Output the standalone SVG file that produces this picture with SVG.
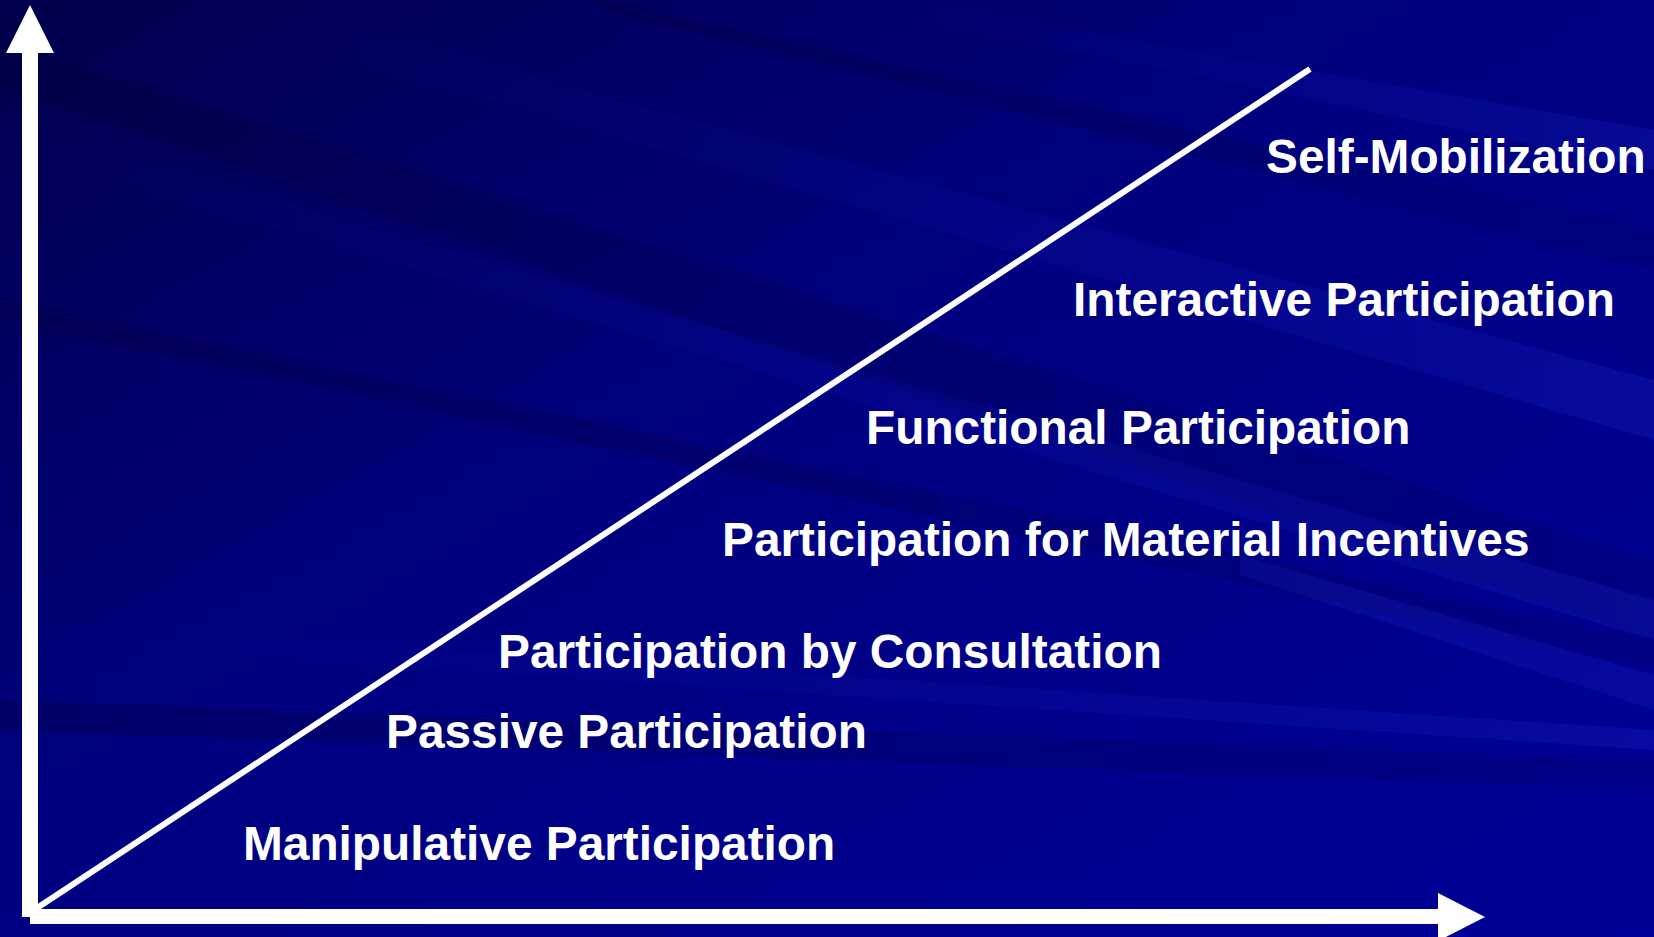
<svg xmlns="http://www.w3.org/2000/svg" width="1654" height="937" viewBox="0 0 1654 937">
  <defs>
    <linearGradient id="bg" x1="0" y1="0" x2="1" y2="1">
      <stop offset="0" stop-color="#00004c"/>
      <stop offset="0.45" stop-color="#000080"/>
      <stop offset="1" stop-color="#000098"/>
    </linearGradient>
    <linearGradient id="streakLight" x1="0" y1="0" x2="1" y2="0">
      <stop offset="0" stop-color="#3040ff" stop-opacity="0"/>
      <stop offset="0.6" stop-color="#3040ff" stop-opacity="0.07"/>
      <stop offset="1" stop-color="#4050ff" stop-opacity="0.13"/>
    </linearGradient>
    <linearGradient id="streakDark" x1="0" y1="0" x2="1" y2="0">
      <stop offset="0" stop-color="#000030" stop-opacity="0.25"/>
      <stop offset="1" stop-color="#000030" stop-opacity="0.12"/>
    </linearGradient>
    <style>
      .axis { fill: #ffffff; }
      .diag { stroke: #ffffff; stroke-width: 6; stroke-linecap: butt; fill: none; }
      .label { font-family: "Liberation Sans", Arial, sans-serif; font-weight: bold; font-size: 47.8px; fill: #ffffff; }
    </style>
  </defs>

  <!-- backdrop -->
  <rect width="1654" height="937" fill="url(#bg)"/>
  <g id="backdrop-streaks">
    <polygon points="0,40 1654,560 1654,640 0,90" fill="url(#streakDark)"/>
    <polygon points="0,120 1654,600 1654,640 0,145" fill="url(#streakLight)"/>
    <polygon points="250,0 1654,380 1654,440 250,30" fill="url(#streakLight)"/>
    <polygon points="600,0 1654,230 1654,270 600,10" fill="url(#streakDark)"/>
    <polygon points="900,0 1654,130 1654,170 900,15" fill="url(#streakLight)"/>
    <polygon points="0,300 1654,640 1654,670 0,320" fill="url(#streakDark)"/>
    <polygon points="1240,555 1654,675 1654,710 1240,575" fill="#3a46ff" fill-opacity="0.12"/>
    <polygon points="0,620 1654,730 1654,750 0,640" fill="url(#streakLight)"/>
    <polygon points="0,700 1654,760 1654,790 0,730" fill="url(#streakDark)"/>
  </g>

  <!-- axes and rising diagonal -->
  <g id="connectors">
    <rect class="axis" x="22" y="52" width="16" height="865"/>
    <polygon class="axis" points="30,5 6,53 54,53"/>
    <rect class="axis" x="30" y="909" width="1410" height="15"/>
    <polygon class="axis" points="1438,893 1485,917 1438,941"/>
    <line class="diag" x1="37" y1="908" x2="1310" y2="69"/>
  </g>

  <!-- participation levels, lowest to highest -->
  <g id="manipulative"><text class="label" x="243" y="860">Manipulative Participation</text></g>
  <g id="passive"><text class="label" x="386" y="748">Passive Participation</text></g>
  <g id="consultation"><text class="label" x="498" y="668">Participation by Consultation</text></g>
  <g id="material-incentives"><text class="label" x="722" y="556">Participation for Material Incentives</text></g>
  <g id="functional"><text class="label" x="866" y="444">Functional Participation</text></g>
  <g id="interactive"><text class="label" x="1073" y="316">Interactive Participation</text></g>
  <g id="self-mobilization"><text class="label" x="1266" y="173">Self-Mobilization</text></g>
</svg>
